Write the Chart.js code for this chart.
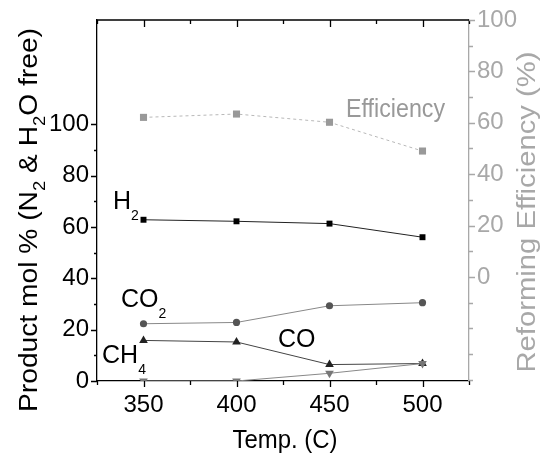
<!DOCTYPE html>
<html>
<head>
<meta charset="utf-8">
<script src="https://cdn.jsdelivr.net/npm/chart.js@4.4.0/dist/chart.umd.min.js"></script>
<style>
  html, body { margin: 0; padding: 0; background: #fff; }
  #wrap { width: 551px; height: 459px; }
</style>
</head>
<body>
<div id="wrap"><canvas id="chart" width="551" height="459"></canvas></div>
<script>
// values
const temps = [350, 400, 450, 500];
const h2 = [62.8, 62.2, 61.3, 56.0];
const co2 = [22.3, 22.8, 29.3, 30.5];
const ch4 = [15.8, 15.2, 6.4, 6.8];
const co = [0, 0, 3.0, 6.8];
const efficiency = [62.1, 63.4, 60.2, 49.0];

const xTickValues = [350, 400, 450, 500];
const leftTickValues = [0, 20, 40, 60, 80, 100];
const rightTickValues = [0, 20, 40, 60, 80, 100];

// in-plot labels, anchored in data units (x: temp, y: left axis)
const notes = [
  { text: 'H', sub: '2', x: 333.6, y: 66.8, color: '#000' },
  { text: 'CO', sub: '2', x: 337.9, y: 29.0, color: '#000' },
  { text: 'CH', sub: '4', x: 327.7, y: 6.95, color: '#000' },
  { text: 'CO', sub: '', x: 422.3, y: 13.1, color: '#000' },
  { text: 'Efficiency', sub: '', x: 458.9, y: 102.7, color: '#999', width: 99 }
];

const FONT = '"Liberation Sans", Arial, sans-serif';
const GREY_AXIS = '#a8a8a8';

const pts = vals => temps.map((t, i) => ({ x: t, y: vals[i] }));

function drawRich(ctx, parts, size, subSize, subDrop) {
  let x = 0;
  parts.forEach(([t, sub]) => {
    ctx.font = (sub ? subSize : size) + 'px ' + FONT;
    ctx.fillText(t, x, sub ? subDrop : 0);
    x += ctx.measureText(t).width;
  });
}
function richWidth(ctx, parts, size, subSize) {
  let w = 0;
  parts.forEach(([t, sub]) => {
    ctx.font = (sub ? subSize : size) + 'px ' + FONT;
    w += ctx.measureText(t).width;
  });
  return w;
}

const decor = {
  id: 'decor',
  afterDraw(chart) {
    const ctx = chart.ctx;
    const { x, y, y2 } = chart.scales;
    const a = chart.chartArea;
    ctx.save();
    ctx.lineWidth = 1.3;

    // top frame + ticks on top/bottom/left
    ctx.strokeStyle = '#000';
    ctx.beginPath();
    ctx.moveTo(a.left, a.top);
    ctx.lineTo(a.right, a.top);
    for (let v = 325; v <= 525; v += 25) {
      const px = Math.round(x.getPixelForValue(v)) + 0.5;
      const major = v % 50 === 0;
      ctx.moveTo(px, a.top);
      ctx.lineTo(px, a.top + (major ? 7 : 4));
      ctx.moveTo(px, a.bottom);
      ctx.lineTo(px, a.bottom + (major ? 6 : 4));
    }
    for (let v = 0; v <= 100; v += 10) {
      const py = Math.round(y.getPixelForValue(v)) + 0.5;
      ctx.moveTo(a.left, py);
      ctx.lineTo(a.left - (v % 20 === 0 ? 6 : 3), py);
    }
    ctx.stroke();

    ctx.strokeStyle = GREY_AXIS;
    ctx.beginPath();
    for (let v = -40; v <= 100; v += 10) {
      const py = Math.round(y2.getPixelForValue(v)) + 0.5;
      ctx.moveTo(a.right, py);
      ctx.lineTo(a.right + (v >= 0 && v % 20 === 0 ? 6 : 4), py);
    }
    ctx.stroke();

    // in-plot labels
    ctx.textBaseline = 'alphabetic';
    ctx.textAlign = 'left';
    notes.forEach(n => {
      ctx.fillStyle = n.color;
      ctx.save();
      ctx.translate(x.getPixelForValue(n.x), y.getPixelForValue(n.y));
      const parts = [[n.text, false]];
      if (n.sub) parts.push([n.sub, true]);
      if (n.width) ctx.scale(n.width / richWidth(ctx, parts, 25, 14), 1);
      drawRich(ctx, parts, 25, 14, 11);
      ctx.restore();
    });

    // left title
    const leftParts = [['Product mol % (N', false], ['2', true], [' & H', false], ['2', true], ['O free)', false]];
    ctx.fillStyle = '#000';
    ctx.save();
    ctx.translate(37, 220);
    ctx.rotate(-Math.PI / 2);
    let w = richWidth(ctx, leftParts, 26, 17);
    ctx.scale(384 / w, 1);
    ctx.translate(-w / 2, 0);
    drawRich(ctx, leftParts, 26, 17, 8);
    ctx.restore();

    // right title
    ctx.fillStyle = GREY_AXIS;
    ctx.save();
    ctx.translate(535, 212);
    ctx.rotate(-Math.PI / 2);
    ctx.font = '25px ' + FONT;
    w = ctx.measureText('Reforming Efficiency (%)').width;
    ctx.scale(321 / w, 1);
    ctx.fillText('Reforming Efficiency (%)', -w / 2, 0);
    ctx.restore();

    // bottom title
    ctx.fillStyle = '#000';
    ctx.save();
    ctx.translate(285, 448);
    ctx.font = '25px ' + FONT;
    w = ctx.measureText('Temp. (C)').width;
    ctx.scale(105 / w, 1);
    ctx.fillText('Temp. (C)', -w / 2, 0);
    ctx.restore();

    ctx.restore();
  }
};

const tickFont = { family: FONT, size: 24, lineHeight: 1 };

new Chart(document.getElementById('chart'), {
  type: 'line',
  data: {
    datasets: [
      {
        label: 'Efficiency', data: pts(efficiency), yAxisID: 'y2',
        borderColor: '#b8b8b8', borderWidth: 1, borderDash: [3, 3],
        pointStyle: 'rect', pointRadius: 5, pointBackgroundColor: '#999', pointBorderWidth: 0
      },
      {
        label: 'H2', data: pts(h2), yAxisID: 'y',
        borderColor: '#222', borderWidth: 1,
        pointStyle: 'rect', pointRadius: 4.2, pointBackgroundColor: '#000', pointBorderWidth: 0
      },
      {
        label: 'CO2', data: pts(co2), yAxisID: 'y',
        borderColor: '#888', borderWidth: 1,
        pointStyle: 'circle', pointRadius: 3.6, pointBackgroundColor: '#555', pointBorderWidth: 0
      },
      {
        label: 'CO', data: pts(co), yAxisID: 'y',
        borderColor: '#888', borderWidth: 1,
        pointStyle: 'triangle', pointRotation: 180, pointRadius: 5, pointBackgroundColor: '#777', pointBorderWidth: 0
      },
      {
        label: 'CH4', data: pts(ch4), yAxisID: 'y',
        borderColor: '#444', borderWidth: 1,
        pointStyle: 'triangle', pointRadius: 5, pointBackgroundColor: '#222', pointBorderWidth: 0
      }
    ]
  },
  options: {
    responsive: false,
    animation: false,
    layout: { padding: { top: 17, left: 0, right: 0, bottom: 0 } },
    plugins: { legend: { display: false }, tooltip: { enabled: false } },
    scales: {
      x: {
        type: 'linear', position: 'bottom', min: 325, max: 525,
        afterFit: s => { s.height = 78; },
        afterBuildTicks: s => { s.ticks = xTickValues.map(v => ({ value: v })); },
        grid: { display: false, drawTicks: false },
        border: { display: true, color: '#000', width: 1.3 },
        ticks: { padding: 12, color: '#000', font: tickFont }
      },
      y: {
        type: 'linear', position: 'left', min: 0, max: 140.6,
        afterFit: s => { s.width = 97; },
        afterBuildTicks: s => { s.ticks = leftTickValues.map(v => ({ value: v })); },
        grid: { display: false, drawTicks: false },
        border: { display: true, color: '#000', width: 1.3 },
        ticks: { padding: 8, color: '#000', font: tickFont }
      },
      y2: {
        type: 'linear', position: 'right', min: -40.5, max: 100,
        afterFit: s => { s.width = 82; },
        afterBuildTicks: s => { s.ticks = rightTickValues.map(v => ({ value: v })); },
        grid: { display: false, drawTicks: false },
        border: { display: true, color: GREY_AXIS, width: 1.3 },
        ticks: { padding: 8, color: GREY_AXIS, font: tickFont }
      }
    }
  },
  plugins: [decor]
});
</script>
</body>
</html>
